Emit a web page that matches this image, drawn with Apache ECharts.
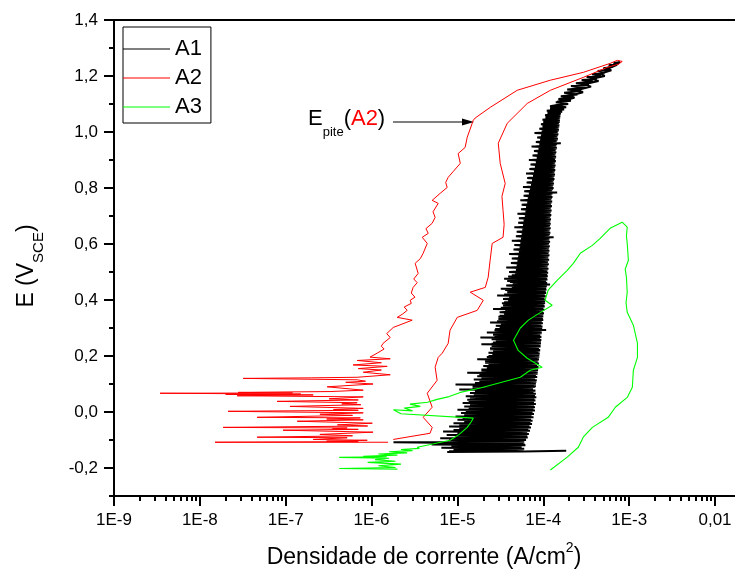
<!DOCTYPE html>
<html><head><meta charset="utf-8">
<script src="https://cdn.jsdelivr.net/npm/echarts@6/dist/echarts.min.js"></script>
<style>html,body{margin:0;padding:0;background:#fff}#c{width:735px;height:571px}</style>
</head><body><div id="c"></div>
<script>
// ---------- data ----------
const seriesNames = ['A1', 'A2', 'A3'];
const xDecades = [1e-9, 1e-8, 1e-7, 1e-6, 1e-5, 1e-4, 1e-3, 1e-2];
const xTickLabels = ['1E-9', '1E-8', '1E-7', '1E-6', '1E-5', '1E-4', '1E-3', '0,01'];
const xMax = 0.0171; // right edge of the (cropped) plot
const yTickValues = [-0.2, 0, 0.2, 0.4, 0.6, 0.8, 1.0, 1.2, 1.4];
const yMinorValues = [-0.3, -0.1, 0.1, 0.3, 0.5, 0.7, 0.9, 1.1, 1.3];

// A1: [current density (A/cm2), E (V_SCE)] forward scan (noisy band)
const a1Forward = [
[1.85e-4,-0.138],[5.8e-5,-0.141],[7.6e-6,-0.143],[5.9e-5,-0.137],
[9.0e-6,-0.134],[6.0e-5,-0.131],[6.5e-6,-0.128],[5.6e-5,-0.125],
[8.5e-6,-0.122],[6.2e-5,-0.119],[5.0e-6,-0.116],[5.9e-5,-0.113],
[1.8e-6,-0.108],[6.0e-5,-0.106],[8.0e-6,-0.1],[6.3e-5,-0.097],
[6.3e-6,-0.094],[6.6e-5,-0.091],[9.5e-6,-0.088],[6.1e-5,-0.085],
[7.5e-6,-0.082],[6.8e-5,-0.079],[1.0e-5,-0.076],[6.5e-5,-0.073],
[6.8e-6,-0.07],[7.0e-5,-0.067],[9.0e-6,-0.064],[6.7e-5,-0.061],
[1.1e-5,-0.058],[7.2e-5,-0.055],[8.0e-6,-0.052],[6.9e-5,-0.049],
[1.05e-5,-0.046],[7.4e-5,-0.043],[9.0e-6,-0.04],[7.0e-5,-0.037],
[1.2e-5,-0.034],[7.5e-5,-0.031],[1.0e-5,-0.028],[7.2e-5,-0.025],
[1.15e-5,-0.022],[7.7e-5,-0.019],[9.5e-6,-0.016],[7.3e-5,-0.013],
[1.25e-5,-0.01],[7.8e-5,-0.007],[1.1e-5,-0.004],[7.5e-5,-0.001],
[1.3e-5,0.002],[8.0e-5,0.005],[1.0e-5,0.008],[7.6e-5,0.011],
[1.35e-5,0.014],[8.0e-5,0.017],[1.2e-5,0.02],[7.8e-5,0.023],
[1.4e-5,0.026],[8.2e-5,0.029],[1.15e-5,0.032],[7.8e-5,0.035],
[1.45e-5,0.038],[8.1e-5,0.041],[1.3e-5,0.044],[7.9e-5,0.047],
[1.5e-5,0.05],[8.3e-5,0.053],[1.25e-5,0.056],[7.8e-5,0.059],
[1.55e-5,0.062],[8.2e-5,0.065],[1.4e-5,0.068],[7.7e-5,0.071],
[1.6e-5,0.074],[8.1e-5,0.077],[1.05e-5,0.08],[7.6e-5,0.083],
[1.7e-5,0.086],[8.0e-5,0.089],[1.5e-5,0.092],[7.8e-5,0.095],
[9.5e-6,0.098],[8.2e-5,0.101],[1.6e-5,0.104],[7.9e-5,0.107],
[1.8e-5,0.11],[8.4e-5,0.113],[1.55e-5,0.116],[8.0e-5,0.119],
[1.9e-5,0.122],[8.5e-5,0.125],[1.7e-5,0.128],[8.2e-5,0.131],
[2.0e-5,0.134],[8.6e-5,0.137],[1.3e-5,0.14],[8.3e-5,0.143],
[2.1e-5,0.146],[8.7e-5,0.149],[1.9e-5,0.152],[8.4e-5,0.155],
[2.2e-5,0.158],[8.8e-5,0.161],[2.05e-5,0.164],[8.5e-5,0.167],
[2.3e-5,0.17],[8.9e-5,0.173],[2.1e-5,0.176],[8.6e-5,0.179],
[2.4e-5,0.182],[8.8e-5,0.185],[1.7e-5,0.188],[8.5e-5,0.191],
[2.5e-5,0.194],[9.0e-5,0.197],[2.3e-5,0.2],[8.7e-5,0.203],
[2.55e-5,0.206],[9.1e-5,0.209],[2.35e-5,0.212],[8.8e-5,0.215],
[2.6e-5,0.218],[9.2e-5,0.221],[2.4e-5,0.224],[8.9e-5,0.227],
[2.7e-5,0.23],[9.3e-5,0.233],[2.5e-5,0.236],[9.0e-5,0.239],
[1.9e-5,0.242],[9.4e-5,0.245],[2.6e-5,0.248],[9.1e-5,0.251],
[2.8e-5,0.254],[9.5e-5,0.257],[2.5e-5,0.26],[9.2e-5,0.263],
[1.85e-5,0.266],[9.5e-5,0.269],[2.7e-5,0.272],[9.2e-5,0.275],
[2.9e-5,0.278],[9.6e-5,0.281],[2.2e-5,0.284],[9.3e-5,0.287],
[3.0e-5,0.29],[1.08e-4,0.293],[2.75e-5,0.296],[9.4e-5,0.299],
[3.1e-5,0.302],[9.8e-5,0.305],[2.85e-5,0.308],[9.5e-5,0.311],
[3.2e-5,0.314],[9.9e-5,0.317],[2.4e-5,0.32],[9.6e-5,0.323],
[3.3e-5,0.326],[1.0e-4,0.329],[3.0e-5,0.332],[9.7e-5,0.335],
[3.4e-5,0.338],[1.0e-4,0.341],[3.1e-5,0.344],[9.8e-5,0.347],
[3.5e-5,0.35],[1.02e-4,0.353],[3.2e-5,0.356],[9.9e-5,0.359],
[3.6e-5,0.362],[1.03e-4,0.365],[2.6e-5,0.368],[1.0e-4,0.371],
[3.7e-5,0.374],[1.04e-4,0.377],[3.4e-5,0.38],[1.01e-4,0.383],
[3.8e-5,0.386],[1.05e-4,0.389],[3.5e-5,0.392],[1.02e-4,0.395],
[3.9e-5,0.398],[1.06e-4,0.401],[3.6e-5,0.404],[1.03e-4,0.407],
[4.0e-5,0.41],[1.07e-4,0.413],[2.9e-5,0.416],[1.04e-4,0.419],
[4.1e-5,0.422],[1.08e-4,0.425],[3.8e-5,0.428],[1.05e-4,0.431],
[4.2e-5,0.434],[1.09e-4,0.437],[3.2e-5,0.44],[1.06e-4,0.443],
[4.3e-5,0.446],[1.1e-4,0.449],[4.0e-5,0.452],[1.2e-4,0.455],
[4.4e-5,0.458],[1.11e-4,0.461],[4.1e-5,0.464],[1.08e-4,0.467],
[4.5e-5,0.47],[1.12e-4,0.473],[3.5e-5,0.476],[1.09e-4,0.479],
[4.6e-5,0.482],[1.13e-4,0.485],[4.3e-5,0.488],[1.1e-4,0.491],
[4.7e-5,0.494],[1.14e-4,0.497],[4.4e-5,0.5],[1.11e-4,0.504],
[4.8e-5,0.508],[1.15e-4,0.512],[3.7e-5,0.516],[1.12e-4,0.52],
[4.9e-5,0.524],[1.16e-4,0.528],[4.6e-5,0.532],[1.13e-4,0.536],
[5.0e-5,0.54],[1.17e-4,0.544],[4.7e-5,0.548],[1.14e-4,0.552],
[5.1e-5,0.556],[1.18e-4,0.56],[4.0e-5,0.564],[1.15e-4,0.568],
[5.2e-5,0.572],[1.18e-4,0.576],[4.9e-5,0.58],[1.16e-4,0.584],
[5.3e-5,0.588],[1.19e-4,0.592],[5.0e-5,0.596],[1.16e-4,0.6],
[5.4e-5,0.604],[1.2e-4,0.608],[4.3e-5,0.612],[1.17e-4,0.616],
[5.5e-5,0.62],[1.32e-4,0.624],[5.2e-5,0.628],[1.18e-4,0.632],
[5.6e-5,0.636],[1.21e-4,0.64],[5.3e-5,0.644],[1.18e-4,0.648],
[5.7e-5,0.652],[1.22e-4,0.656],[4.6e-5,0.66],[1.19e-4,0.664],
[5.8e-5,0.668],[1.22e-4,0.672],[5.5e-5,0.676],[1.2e-4,0.68],
[5.9e-5,0.684],[1.23e-4,0.688],[5.6e-5,0.692],[1.2e-4,0.696],
[6.1e-5,0.7],[1.24e-4,0.704],[5.0e-5,0.708],[1.21e-4,0.712],
[6.2e-5,0.716],[1.25e-4,0.72],[5.9e-5,0.724],[1.22e-4,0.728],
[6.3e-5,0.732],[1.26e-4,0.736],[6.0e-5,0.74],[1.23e-4,0.744],
[6.5e-5,0.748],[1.27e-4,0.752],[5.4e-5,0.756],[1.24e-4,0.76],
[6.6e-5,0.764],[1.28e-4,0.768],[6.3e-5,0.772],[1.25e-4,0.776],
[6.8e-5,0.78],[1.45e-4,0.784],[6.5e-5,0.788],[1.27e-4,0.792],
[7.0e-5,0.796],[1.32e-4,0.8],[5.8e-5,0.804],[1.29e-4,0.808],
[7.2e-5,0.812],[1.33e-4,0.816],[6.9e-5,0.82],[1.3e-4,0.824],
[7.4e-5,0.828],[1.35e-4,0.832],[7.1e-5,0.836],[1.32e-4,0.84],
[7.6e-5,0.844],[1.37e-4,0.848],[6.3e-5,0.852],[1.34e-4,0.856],
[7.8e-5,0.86],[1.38e-4,0.864],[7.5e-5,0.868],[1.35e-4,0.872],
[8.0e-5,0.876],[1.39e-4,0.88],[7.7e-5,0.884],[1.36e-4,0.888],
[8.2e-5,0.892],[1.4e-4,0.896],[6.8e-5,0.9],[1.37e-4,0.904],
[8.4e-5,0.908],[1.41e-4,0.912],[8.1e-5,0.916],[1.38e-4,0.92],
[8.6e-5,0.924],[1.42e-4,0.928],[8.3e-5,0.932],[1.39e-4,0.936],
[8.8e-5,0.94],[1.44e-4,0.944],[7.3e-5,0.948],[1.41e-4,0.952],
[9.0e-5,0.956],[1.6e-4,0.96],[8.7e-5,0.964],[1.43e-4,0.968],
[9.2e-5,0.972],[1.48e-4,0.976],[8.9e-5,0.98],[1.45e-4,0.984],
[9.4e-5,0.988],[1.5e-4,0.992],[7.9e-5,0.996],[1.47e-4,1.0],
[9.6e-5,1.004],[1.52e-4,1.008],[9.3e-5,1.012],[1.5e-4,1.016],
[9.8e-5,1.02],[1.54e-4,1.024],[9.6e-5,1.028],[1.52e-4,1.032],
[1.0e-4,1.036],[1.56e-4,1.04],[1.02e-4,1.044],[1.55e-4,1.048],
[1.06e-4,1.052],[1.58e-4,1.056],[1.08e-4,1.06],[1.6e-4,1.064],
[1.12e-4,1.068],[1.66e-4,1.072],[1.15e-4,1.076],[1.75e-4,1.08],
[1.2e-4,1.084],[1.85e-4,1.088],[1.3e-4,1.094],[1.95e-4,1.1],
[1.4e-4,1.106],[2.1e-4,1.112],[1.5e-4,1.118],[2.3e-4,1.124],
[1.6e-4,1.128],[2.5e-4,1.134],[1.75e-4,1.14],[2.75e-4,1.146],
[1.9e-4,1.152],[3.1e-4,1.158],[2.1e-4,1.164],[3.4e-4,1.168],
[2.4e-4,1.174],[3.8e-4,1.18],[2.8e-4,1.186],[4.2e-4,1.19],
[3.2e-4,1.196],[4.7e-4,1.2],[3.7e-4,1.206],[5.2e-4,1.212],
[4.3e-4,1.218],[5.8e-4,1.222],[5.0e-4,1.228],[6.4e-4,1.232],
[5.8e-4,1.238],[7.0e-4,1.242],[6.6e-4,1.246],[7.8e-4,1.25]
];
// A1 reverse scan
const a1Reverse = [
[7.0e-4,1.238],[5.6e-4,1.226],[6.2e-4,1.22],[4.6e-4,1.208],[5.2e-4,1.2],
[3.7e-4,1.19],[4.4e-4,1.182],[3.0e-4,1.17],[3.6e-4,1.162],[2.5e-4,1.15],
[2.9e-4,1.142],[2.1e-4,1.13],[2.3e-4,1.122],[1.8e-4,1.114],
[1.75e-4,1.116],[1.45e-4,1.108],[1.68e-4,1.1],[1.2e-4,1.092],
[1.62e-4,1.084],[1.1e-4,1.076],[1.6e-4,1.068],[1.05e-4,1.06],
[1.57e-4,1.052],[9.8e-5,1.044],[1.55e-4,1.036],[9.4e-5,1.028],
[1.53e-4,1.02],[9.0e-5,1.012],[1.5e-4,1.004],[8.8e-5,0.996],
[1.48e-4,0.988],[8.5e-5,0.98],[1.46e-4,0.972],[8.2e-5,0.964],
[1.44e-4,0.956],[8.0e-5,0.948],[1.42e-4,0.94],[7.8e-5,0.932],
[1.4e-4,0.924],[7.5e-5,0.916],[1.39e-4,0.908],[7.3e-5,0.9],
[1.38e-4,0.892],[7.1e-5,0.884],[1.37e-4,0.876],[6.9e-5,0.868],
[1.36e-4,0.86],[6.7e-5,0.852],[1.35e-4,0.844],[6.5e-5,0.836],
[1.33e-4,0.828],[6.4e-5,0.82],[1.31e-4,0.812],[6.2e-5,0.804],
[1.3e-4,0.796],[6.0e-5,0.788],[1.28e-4,0.78],[5.9e-5,0.772],
[1.26e-4,0.764],[5.8e-5,0.756],[1.25e-4,0.748],[5.6e-5,0.74],
[1.24e-4,0.732],[5.5e-5,0.724],[1.23e-4,0.716],[5.4e-5,0.708],
[1.22e-4,0.7],[5.2e-5,0.692],[1.21e-4,0.684],[5.1e-5,0.676],
[1.2e-4,0.668],[5.0e-5,0.66],[1.19e-4,0.652],[4.9e-5,0.644],
[1.19e-4,0.636],[4.8e-5,0.628],[1.18e-4,0.62],[4.7e-5,0.612],
[1.17e-4,0.604],[4.6e-5,0.596],[1.17e-4,0.588],[4.5e-5,0.58],
[1.16e-4,0.572],[4.4e-5,0.564],[1.15e-4,0.556],[4.3e-5,0.548],
[1.14e-4,0.54],[4.2e-5,0.532],[1.13e-4,0.524],[4.1e-5,0.516],
[1.12e-4,0.508],[4.0e-5,0.5],[1.11e-4,0.492],[3.9e-5,0.484],
[1.1e-4,0.476],[3.8e-5,0.468],[1.09e-4,0.46],[3.7e-5,0.452],
[1.08e-4,0.444],[3.6e-5,0.436],[1.07e-4,0.428],[3.5e-5,0.42],
[1.06e-4,0.412],[3.4e-5,0.404],[1.05e-4,0.396],[3.3e-5,0.388],
[1.03e-4,0.38],[3.2e-5,0.372],[1.02e-4,0.364],[3.1e-5,0.356],
[1.0e-4,0.348],[3.0e-5,0.34],[9.9e-5,0.332],[2.9e-5,0.324],
[9.8e-5,0.316],[2.8e-5,0.308],[9.7e-5,0.3],[2.7e-5,0.292],
[9.6e-5,0.284],[2.6e-5,0.276],[9.5e-5,0.268],[2.55e-5,0.26],
[9.4e-5,0.252],[2.5e-5,0.244],[9.3e-5,0.236],[2.4e-5,0.228],
[9.2e-5,0.22],[2.3e-5,0.212],[9.0e-5,0.204],[2.2e-5,0.196],
[8.9e-5,0.188],[2.1e-5,0.18],[8.8e-5,0.172],[2.0e-5,0.164],
[8.7e-5,0.156],[1.9e-5,0.148],[8.6e-5,0.14],[1.8e-5,0.132],
[8.4e-5,0.124],[1.7e-5,0.116],[8.3e-5,0.108],[1.6e-5,0.1],
[8.2e-5,0.092],[1.5e-5,0.084],[8.1e-5,0.076],[1.45e-5,0.068],
[8.0e-5,0.06],[1.4e-5,0.052],[7.9e-5,0.044],[1.35e-5,0.036],
[7.8e-5,0.028],[1.3e-5,0.02],[7.7e-5,0.012],[1.25e-5,0.004],
[7.5e-5,-0.004],[1.2e-5,-0.012],[7.3e-5,-0.02],[1.15e-5,-0.028],
[7.1e-5,-0.036],[1.1e-5,-0.044],[6.9e-5,-0.052],[1.05e-5,-0.06],
[6.7e-5,-0.068],[1.0e-5,-0.076],[6.5e-5,-0.084],[9.5e-6,-0.092],
[6.3e-5,-0.1],[9.0e-6,-0.108],[6.1e-5,-0.116],[8.5e-6,-0.124],
[5.9e-5,-0.132],[8.0e-6,-0.14]
];

// A2
const a2 = [
[1.56e-6,-0.108],[1.5e-8,-0.108],[7.0e-7,-0.106],[3.0e-7,-0.104],[8.9e-7,-0.101],[2.09e-7,-0.098],
[5.2e-7,-0.092],[4.64e-8,-0.09],[6.0e-7,-0.085],[2.5e-7,-0.08],[1.04e-6,-0.072],[9.3e-8,-0.065],
[7.0e-7,-0.062],[3.5e-7,-0.06],[5.2e-7,-0.057],[1.86e-8,-0.055],[9.0e-7,-0.05],[4.0e-7,-0.046],
[1.02e-6,-0.04],[1.36e-7,-0.033],[8.0e-7,-0.028],[3.0e-7,-0.025],[7.4e-7,-0.021],[4.64e-8,-0.019],
[6.0e-7,-0.012],[2.5e-7,-0.008],[8.0e-7,-0.003],[2.13e-8,0.0025],[7.0e-7,0.006],[3.6e-7,0.009],
[8.0e-7,0.013],[1.12e-7,0.02],[7.5e-7,0.026],[4.5e-7,0.029],[6.8e-7,0.033],[7.94e-8,0.038],
[7.0e-7,0.043],[3.2e-7,0.047],[8.0e-7,0.054],[2.72e-8,0.058],[2.09e-7,0.061],[2.0e-8,0.063],
[1.5e-7,0.064],[3.44e-9,0.067],[1.2e-7,0.068],[2.8e-8,0.07],[3.29e-7,0.073],[8.0e-7,0.078],
[3.04e-7,0.09],[1.04e-6,0.1],[5.0e-7,0.106],[8.5e-7,0.11],[6.8e-7,0.115],[3.19e-8,0.12],
[2.0e-7,0.122],[6.8e-7,0.124],[1.65e-6,0.133],[8.0e-7,0.142],[1.3e-6,0.15],[7.0e-7,0.155],
[1.52e-6,0.163],[6.1e-7,0.168],[1.3e-6,0.176],[6.8e-7,0.184],[1.65e-6,0.19],[9.6e-7,0.196],
[1.16e-6,0.21],[1.4e-6,0.225],[1.3e-6,0.235],[1.36e-6,0.245],[1.65e-6,0.266],[1.5e-6,0.28],
[1.79e-6,0.302],[2.97e-6,0.328],[1.99e-6,0.338],[2.3e-6,0.35],[2.6e-6,0.363],[2.4e-6,0.375],
[2.9e-6,0.388],[2.82e-6,0.399],[3.2e-6,0.41],[2.9e-6,0.425],[3.05e-6,0.445],[3.4e-6,0.462],
[3.1e-6,0.475],[3.49e-6,0.495],[3.22e-6,0.531],[3.7e-6,0.548],[3.99e-6,0.567],[4.45e-6,0.602],
[3.89e-6,0.624],[4.57e-6,0.638],[4.3e-6,0.655],[5.08e-6,0.674],[5.5e-6,0.695],[5.2e-6,0.715],
[5.97e-6,0.745],[5.08e-6,0.756],[6.3e-6,0.781],[7.6e-6,0.802],[7.3e-6,0.82],[7.8e-6,0.838],
[9.0e-6,0.86],[1.08e-5,0.888],[1.02e-5,0.923],[1.23e-5,0.945],[1.3e-5,0.981],[1.53e-5,1.042],
[1.61e-5,1.05],[2.41e-5,1.088],[4.97e-5,1.149],[1.21e-4,1.185],[2.92e-4,1.213],[6.0e-4,1.245],
[7.3e-4,1.256],[8.3e-4,1.252],[7.5e-4,1.242],[5.57e-4,1.231],[2.92e-4,1.195],[1.21e-4,1.149],
[6.5e-5,1.102],[3.8e-5,1.031],[2.99e-5,0.96],[3.15e-5,0.888],[3.6e-5,0.816],[3.3e-5,0.77],
[3.4e-5,0.72],[3.5e-5,0.67],[3.4e-5,0.624],[2.54e-5,0.602],[2.4e-5,0.54],[2.28e-5,0.481],
[2.11e-5,0.445],[1.41e-5,0.428],[2.0e-5,0.399],[1.7e-5,0.363],[9.96e-6,0.338],[8.2e-6,0.292],
[7.8e-6,0.245],[6.65e-6,0.21],[5.97e-6,0.195],[5.5e-6,0.16],[5.8e-6,0.113],[4.45e-6,0.067],
[5.08e-6,0.017],[3.99e-6,-0.019],[5.08e-6,-0.055],[4.8e-6,-0.076],[1.79e-6,-0.098]
];

// A3
const a3 = [
[2.0e-6,-0.204],[4.2e-7,-0.202],[1.9e-6,-0.198],[1.2e-6,-0.192],[2.2e-6,-0.186],[9.0e-7,-0.18],
[1.9e-6,-0.176],[1.1e-6,-0.17],[1.6e-6,-0.165],[4.2e-7,-0.162],[1.5e-6,-0.16],[8.0e-7,-0.158],
[2.0e-6,-0.154],[1.2e-6,-0.15],[2.6e-6,-0.146],[1.6e-6,-0.142],[3.0e-6,-0.138],[2.2e-6,-0.134],
[3.6e-6,-0.13],[3.4e-6,-0.126],[5.0e-6,-0.115],[8.2e-6,-0.101],[1.05e-5,-0.08],[1.3e-5,-0.055],
[1.45e-5,-0.035],[1.53e-5,-0.022],[2.2e-6,-0.006],[1.8e-6,0.008],[3.0e-6,0.004],[2.4e-6,0.014],
[3.7e-6,0.02],[2.8e-6,0.028],[4.5e-6,0.035],[5.8e-6,0.045],[8.0e-6,0.055],[1.08e-5,0.07],
[1.8e-5,0.085],[2.9e-5,0.102],[5.4e-5,0.124],[7.05e-5,0.149],[9.7e-5,0.16],[6.5e-5,0.192],
[5.1e-5,0.22],[4.5e-5,0.256],[5.4e-5,0.3],[6.7e-5,0.328],[9.2e-5,0.355],[1.27e-4,0.381],
[1.05e-4,0.399],[1.14e-4,0.435],[1.45e-4,0.47],[1.9e-4,0.506],[2.24e-4,0.531],[2.7e-4,0.567],
[3.73e-4,0.595],[4.6e-4,0.62],[6.0e-4,0.656],[8.3e-4,0.678],[9.5e-4,0.66],[9.3e-4,0.63],
[9.5e-4,0.602],[9.8e-4,0.542],[9.0e-4,0.51],[9.3e-4,0.481],[9.5e-4,0.428],[9.2e-4,0.39],
[9.5e-4,0.356],[1.12e-3,0.31],[1.25e-3,0.245],[1.25e-3,0.195],[1.12e-3,0.149],[1.09e-3,0.088],
[9.5e-4,0.052],[6.9e-4,0.017],[5.7e-4,-0.019],[3.73e-4,-0.055],[2.92e-4,-0.09],[2.56e-4,-0.126],
[1.9e-4,-0.161],[1.21e-4,-0.207]
];

// ---------- chart ----------
const FONT = 'Arial, "Liberation Sans", sans-serif';
const xMinorValues = [];
xDecades.forEach(d => { for (let m = 2; m <= 9; m++) if (m * d <= xMax) xMinorValues.push(m * d); });
const colors = ['#000000', '#ff0000', '#00ff00'];
const widths = [2.0, 1, 1.1];
const lineSet = [a1Forward.concat(a1Reverse), a2, a3];

const xFmt = v => {
  const lg = Math.log10(v);
  for (let i = 0; i < xDecades.length; i++) if (Math.abs(lg - Math.log10(xDecades[i])) < 1e-6) return xTickLabels[i];
  return '';
};
const yFmt = v => { const s = (Math.abs(v) < 1e-9 ? 0 : v).toFixed(1); return s.replace('.', ','); };

const axisLineStyle = { color: '#000', width: 2 };
const chart = echarts.init(document.getElementById('c'), null, { renderer: 'canvas' });
chart.setOption({
  animation: false,
  backgroundColor: '#fff',
  grid: { left: 114, top: 20, right: 0, bottom: 75, containLabel: false, outerBoundsMode: 'none' },
  legend: {
    data: seriesNames, orient: 'vertical', left: 123, top: 27,
    padding: [10, 9, 4, 0], itemGap: 5, itemWidth: 47, itemHeight: 1, icon: 'rect',
    borderColor: '#000', borderWidth: 1, borderRadius: 0,
    textStyle: { color: '#000', fontSize: 22, fontFamily: FONT, lineHeight: 24 }
  },
  xAxis: [
    { type: 'log', logBase: 10, min: 1e-9, max: xMax, position: 'bottom',
      axisLine: { show: true, onZero: false, lineStyle: axisLineStyle }, splitLine: { show: false },
      axisTick: { show: true, inside: false, length: 10, lineStyle: axisLineStyle, customValues: xDecades },
      axisLabel: { show: true, customValues: xDecades, formatter: xFmt, margin: 16, color: '#000', fontSize: 17, fontFamily: FONT } },
    { type: 'log', logBase: 10, min: 1e-9, max: xMax, position: 'bottom',
      axisLine: { show: false, onZero: false }, splitLine: { show: false }, axisLabel: { show: false },
      axisTick: { show: true, inside: false, length: 5, lineStyle: axisLineStyle, customValues: xMinorValues } },
    { type: 'value', min: 0, max: 1, position: 'top',
      axisLine: { show: true, onZero: false, lineStyle: axisLineStyle }, axisTick: { show: false }, axisLabel: { show: false }, splitLine: { show: false } }
  ],
  yAxis: [
    { type: 'value', min: -0.3, max: 1.4, position: 'left',
      axisLine: { show: true, onZero: false, lineStyle: axisLineStyle }, splitLine: { show: false },
      axisTick: { show: true, inside: false, length: 10, lineStyle: axisLineStyle, customValues: yTickValues },
      axisLabel: { show: true, customValues: yTickValues, formatter: yFmt, margin: 16, color: '#000', fontSize: 17, fontFamily: FONT } },
    { type: 'value', min: -0.3, max: 1.4, position: 'left',
      axisLine: { show: false, onZero: false }, splitLine: { show: false }, axisLabel: { show: false },
      axisTick: { show: true, inside: false, length: 5, lineStyle: axisLineStyle, customValues: yMinorValues } }
  ],
  series: seriesNames.map((n, k) => ({
    name: n, type: 'line', xAxisIndex: 0, yAxisIndex: 0, data: lineSet[k],
    symbol: 'none', showSymbol: false, smooth: false, clip: true, progressive: 0,
    lineStyle: { color: colors[k], width: widths[k], join: 'bevel' }, itemStyle: { color: colors[k] },
    emphasis: { disabled: true }, silent: true
  })),
  graphic: [
    { type: 'text', x: 27, y: 266, rotation: Math.PI / 2,
      style: { text: '{m|E (V}{s|SCE}{m|)}', align: 'center', verticalAlign: 'middle', fill: '#000',
        rich: { m: { fontSize: 23, fontFamily: FONT, lineHeight: 38, fill: '#000' },
                s: { fontSize: 15, fontFamily: FONT, lineHeight: 15, verticalAlign: 'bottom', fill: '#000' } } } },
    { type: 'text', x: 424, y: 558,
      style: { text: '{m|Densidade de corrente (A/cm}{p|2}{m|)}', align: 'center', verticalAlign: 'middle', fill: '#000',
        rich: { m: { fontSize: 23, fontFamily: FONT, lineHeight: 34, fill: '#000' },
                p: { fontSize: 14, fontFamily: FONT, lineHeight: 14, verticalAlign: 'top', fill: '#000' } } } },
    { type: 'text', x: 308, y: 119,
      style: { text: '{m|E}{s|pite}{m|(}{r|A2}{m|)}', align: 'left', verticalAlign: 'middle', fill: '#000',
        rich: { m: { fontSize: 22, fontFamily: FONT, lineHeight: 40, fill: '#000' },
                r: { fontSize: 22, fontFamily: FONT, lineHeight: 40, fill: '#ff0000' },
                s: { fontSize: 13, fontFamily: FONT, lineHeight: 13, verticalAlign: 'bottom', fill: '#000' } } } },
    { type: 'line', shape: { x1: 393, y1: 122, x2: 465, y2: 122 }, style: { stroke: '#000', lineWidth: 1.2 } },
    { type: 'polygon', shape: { points: [[474, 122], [462, 118.5], [462, 125.5]] }, style: { fill: '#000' } }
  ]
});
</script>
</body></html>
